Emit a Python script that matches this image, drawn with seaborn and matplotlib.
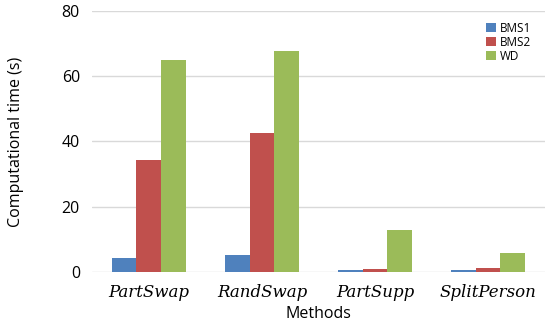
import pandas as pd
import seaborn as sns
import matplotlib.pyplot as plt

methods = ['PartSwap', 'RandSwap', 'PartSupp', 'SplitPerson']
datasets = ['BMS1', 'BMS2', 'WD']
bms1 = [4.2, 5.2, 0.7, 0.5]
bms2 = [34.3, 42.7, 0.9, 1.3]
wd = [65.0, 67.7, 13.0, 5.8]

df = pd.DataFrame({'method': methods * 3,
                   'dataset': ['BMS1'] * 4 + ['BMS2'] * 4 + ['WD'] * 4,
                   'time': bms1 + bms2 + wd})

sns.set_theme(style='white')
plt.rcParams['font.family'] = ['Open Sans', 'DejaVu Sans']
plt.rcParams['text.color'] = 'black'
plt.rcParams['axes.labelcolor'] = 'black'
plt.rcParams['xtick.color'] = 'black'
plt.rcParams['ytick.color'] = 'black'

fig, ax = plt.subplots(figsize=(5.5, 3.3), dpi=100)
fig.subplots_adjust(left=0.168, right=0.99, top=0.967, bottom=0.176)

palette = ['#4F81BD', '#C0504D', '#9BBB59']
sns.barplot(data=df, x='method', y='time', hue='dataset', palette=palette,
            width=0.66, gap=0, saturation=1, ax=ax, linewidth=0)

ax.set_ylim(0, 80)
ax.set_yticks([0, 20, 40, 60, 80])
ax.yaxis.grid(True, color='#D9D9D9', linewidth=1)
ax.set_axisbelow(True)
for s in ax.spines.values():
    s.set_visible(False)
ax.tick_params(axis='both', length=0)
ax.tick_params(axis='y', labelsize=11.5, pad=9)
ax.tick_params(axis='x', pad=9)
ax.set_xticks(range(len(methods)))
ax.set_xticklabels(methods, family='DejaVu Serif', style='italic', fontsize=12)
ax.set_xlabel('Methods', fontsize=11.5, labelpad=3)
ax.set_ylabel('Computational time (s)', fontsize=11.5, labelpad=27)

ax.legend(loc='upper right', frameon=False, handlelength=0.8,
          prop={'family': 'Open Sans', 'size': 8.5},
          handleheight=0.8, handletextpad=0.4, labelspacing=0.1,
          bbox_to_anchor=(0.995, 1.0))

fig.savefig('out.png', dpi=100)
